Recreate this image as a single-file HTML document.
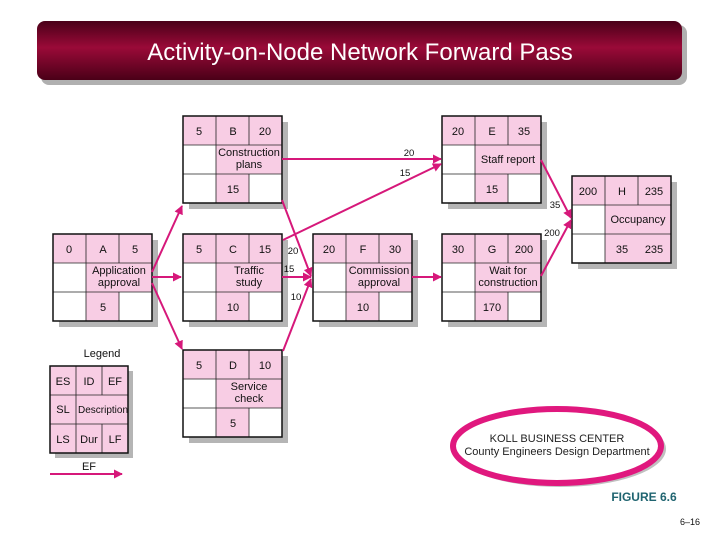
<!DOCTYPE html>
<html><head><meta charset="utf-8"><style>
html,body{margin:0;padding:0;background:#fff;}
svg{display:block;}
text{font-family:"Liberation Sans",sans-serif;}
</style></head><body>
<svg width="720" height="540" viewBox="0 0 720 540" xmlns="http://www.w3.org/2000/svg">
<defs>
<linearGradient id="tg" x1="0" y1="0" x2="0" y2="1">
<stop offset="0" stop-color="#4a0018"/>
<stop offset="0.45" stop-color="#9a0a38"/>
<stop offset="1" stop-color="#4a0018"/>
</linearGradient>
<marker id="ah" viewBox="0 0 10 10" refX="9" refY="5" markerWidth="9" markerHeight="9" markerUnits="userSpaceOnUse" orient="auto">
<path d="M0,0 L10,5 L0,10 z" fill="#d6187a"/>
</marker>
</defs>
<rect x="41" y="25" width="646" height="60" rx="8" fill="#b0b0b0"/>
<rect x="37" y="21" width="645" height="59" rx="8" fill="url(#tg)"/>
<text x="360" y="60" font-size="24" fill="#fff" text-anchor="middle">Activity-on-Node Network Forward Pass</text>

<g font-size="11" text-anchor="middle" fill="#111">
<g transform="translate(183,116)">
<rect x="6" y="6" width="99" height="87" fill="#b5b5b5"/>
<rect x="0" y="0" width="99" height="87" fill="#fff"/>
<rect x="0" y="0" width="99" height="29" fill="#f8cde4"/><rect x="33" y="29" width="66" height="29" fill="#f8cde4"/><rect x="33" y="58" width="33" height="29" fill="#f8cde4"/>
<g stroke="#222" stroke-width="0.8" fill="none"><line x1="0" y1="29" x2="99" y2="29"/><line x1="0" y1="58" x2="99" y2="58"/><line x1="33" y1="0" x2="33" y2="87"/><line x1="66" y1="0" x2="66" y2="29"/><line x1="66" y1="58" x2="66" y2="87"/></g>
<rect x="0" y="0" width="99" height="87" fill="none" stroke="#111" stroke-width="1.5"/>
<text x="16" y="19">5</text><text x="50" y="19">B</text><text x="82" y="19">20</text>
<text x="66" y="40">Construction</text><text x="66" y="52">plans</text><text x="50" y="77">15</text>
</g>
<g transform="translate(442,116)">
<rect x="6" y="6" width="99" height="87" fill="#b5b5b5"/>
<rect x="0" y="0" width="99" height="87" fill="#fff"/>
<rect x="0" y="0" width="99" height="29" fill="#f8cde4"/><rect x="33" y="29" width="66" height="29" fill="#f8cde4"/><rect x="33" y="58" width="33" height="29" fill="#f8cde4"/>
<g stroke="#222" stroke-width="0.8" fill="none"><line x1="0" y1="29" x2="99" y2="29"/><line x1="0" y1="58" x2="99" y2="58"/><line x1="33" y1="0" x2="33" y2="87"/><line x1="66" y1="0" x2="66" y2="29"/><line x1="66" y1="58" x2="66" y2="87"/></g>
<rect x="0" y="0" width="99" height="87" fill="none" stroke="#111" stroke-width="1.5"/>
<text x="16" y="19">20</text><text x="50" y="19">E</text><text x="82" y="19">35</text>
<text x="66" y="47">Staff report</text><text x="50" y="77">15</text>
</g>
<g transform="translate(53,234)">
<rect x="6" y="6" width="99" height="87" fill="#b5b5b5"/>
<rect x="0" y="0" width="99" height="87" fill="#fff"/>
<rect x="0" y="0" width="99" height="29" fill="#f8cde4"/><rect x="33" y="29" width="66" height="29" fill="#f8cde4"/><rect x="33" y="58" width="33" height="29" fill="#f8cde4"/>
<g stroke="#222" stroke-width="0.8" fill="none"><line x1="0" y1="29" x2="99" y2="29"/><line x1="0" y1="58" x2="99" y2="58"/><line x1="33" y1="0" x2="33" y2="87"/><line x1="66" y1="0" x2="66" y2="29"/><line x1="66" y1="58" x2="66" y2="87"/></g>
<rect x="0" y="0" width="99" height="87" fill="none" stroke="#111" stroke-width="1.5"/>
<text x="16" y="19">0</text><text x="50" y="19">A</text><text x="82" y="19">5</text>
<text x="66" y="40">Application</text><text x="66" y="52">approval</text><text x="50" y="77">5</text>
</g>
<g transform="translate(183,234)">
<rect x="6" y="6" width="99" height="87" fill="#b5b5b5"/>
<rect x="0" y="0" width="99" height="87" fill="#fff"/>
<rect x="0" y="0" width="99" height="29" fill="#f8cde4"/><rect x="33" y="29" width="66" height="29" fill="#f8cde4"/><rect x="33" y="58" width="33" height="29" fill="#f8cde4"/>
<g stroke="#222" stroke-width="0.8" fill="none"><line x1="0" y1="29" x2="99" y2="29"/><line x1="0" y1="58" x2="99" y2="58"/><line x1="33" y1="0" x2="33" y2="87"/><line x1="66" y1="0" x2="66" y2="29"/><line x1="66" y1="58" x2="66" y2="87"/></g>
<rect x="0" y="0" width="99" height="87" fill="none" stroke="#111" stroke-width="1.5"/>
<text x="16" y="19">5</text><text x="50" y="19">C</text><text x="82" y="19">15</text>
<text x="66" y="40">Traffic</text><text x="66" y="52">study</text><text x="50" y="77">10</text>
</g>
<g transform="translate(313,234)">
<rect x="6" y="6" width="99" height="87" fill="#b5b5b5"/>
<rect x="0" y="0" width="99" height="87" fill="#fff"/>
<rect x="0" y="0" width="99" height="29" fill="#f8cde4"/><rect x="33" y="29" width="66" height="29" fill="#f8cde4"/><rect x="33" y="58" width="33" height="29" fill="#f8cde4"/>
<g stroke="#222" stroke-width="0.8" fill="none"><line x1="0" y1="29" x2="99" y2="29"/><line x1="0" y1="58" x2="99" y2="58"/><line x1="33" y1="0" x2="33" y2="87"/><line x1="66" y1="0" x2="66" y2="29"/><line x1="66" y1="58" x2="66" y2="87"/></g>
<rect x="0" y="0" width="99" height="87" fill="none" stroke="#111" stroke-width="1.5"/>
<text x="16" y="19">20</text><text x="50" y="19">F</text><text x="82" y="19">30</text>
<text x="66" y="40">Commission</text><text x="66" y="52">approval</text><text x="50" y="77">10</text>
</g>
<g transform="translate(442,234)">
<rect x="6" y="6" width="99" height="87" fill="#b5b5b5"/>
<rect x="0" y="0" width="99" height="87" fill="#fff"/>
<rect x="0" y="0" width="99" height="29" fill="#f8cde4"/><rect x="33" y="29" width="66" height="29" fill="#f8cde4"/><rect x="33" y="58" width="33" height="29" fill="#f8cde4"/>
<g stroke="#222" stroke-width="0.8" fill="none"><line x1="0" y1="29" x2="99" y2="29"/><line x1="0" y1="58" x2="99" y2="58"/><line x1="33" y1="0" x2="33" y2="87"/><line x1="66" y1="0" x2="66" y2="29"/><line x1="66" y1="58" x2="66" y2="87"/></g>
<rect x="0" y="0" width="99" height="87" fill="none" stroke="#111" stroke-width="1.5"/>
<text x="16" y="19">30</text><text x="50" y="19">G</text><text x="82" y="19">200</text>
<text x="66" y="40">Wait for</text><text x="66" y="52">construction</text><text x="50" y="77">170</text>
</g>
<g transform="translate(572,176)">
<rect x="6" y="6" width="99" height="87" fill="#b5b5b5"/>
<rect x="0" y="0" width="99" height="87" fill="#fff"/>
<rect x="0" y="0" width="99" height="29" fill="#f8cde4"/><rect x="33" y="29" width="66" height="29" fill="#f8cde4"/><rect x="33" y="58" width="66" height="29" fill="#f8cde4"/>
<g stroke="#222" stroke-width="0.8" fill="none"><line x1="0" y1="29" x2="99" y2="29"/><line x1="0" y1="58" x2="99" y2="58"/><line x1="33" y1="0" x2="33" y2="87"/><line x1="66" y1="0" x2="66" y2="29"/></g>
<rect x="0" y="0" width="99" height="87" fill="none" stroke="#111" stroke-width="1.5"/>
<text x="16" y="19">200</text><text x="50" y="19">H</text><text x="82" y="19">235</text>
<text x="66" y="47">Occupancy</text><text x="50" y="77">35</text><text x="82" y="77">235</text>
</g>
<g transform="translate(183,350)">
<rect x="6" y="6" width="99" height="87" fill="#b5b5b5"/>
<rect x="0" y="0" width="99" height="87" fill="#fff"/>
<rect x="0" y="0" width="99" height="29" fill="#f8cde4"/><rect x="33" y="29" width="66" height="29" fill="#f8cde4"/><rect x="33" y="58" width="33" height="29" fill="#f8cde4"/>
<g stroke="#222" stroke-width="0.8" fill="none"><line x1="0" y1="29" x2="99" y2="29"/><line x1="0" y1="58" x2="99" y2="58"/><line x1="33" y1="0" x2="33" y2="87"/><line x1="66" y1="0" x2="66" y2="29"/><line x1="66" y1="58" x2="66" y2="87"/></g>
<rect x="0" y="0" width="99" height="87" fill="none" stroke="#111" stroke-width="1.5"/>
<text x="16" y="19">5</text><text x="50" y="19">D</text><text x="82" y="19">10</text>
<text x="66" y="40">Service</text><text x="66" y="52">check</text><text x="50" y="77">5</text>
</g>
<text x="102" y="357" font-size="11">Legend</text>
<g transform="translate(50,366)">
<rect x="5" y="5" width="78" height="87" fill="#b5b5b5"/>
<rect x="0" y="0" width="78" height="87" fill="#f8cde4"/>
<g stroke="#222" stroke-width="0.8" fill="none"><line x1="0" y1="29" x2="78" y2="29"/><line x1="0" y1="58" x2="78" y2="58"/><line x1="26" y1="0" x2="26" y2="87"/><line x1="52" y1="0" x2="52" y2="29"/><line x1="52" y1="58" x2="52" y2="87"/></g>
<rect x="0" y="0" width="78" height="87" fill="none" stroke="#111" stroke-width="1.5"/>
<text x="13" y="19">ES</text><text x="39" y="19">ID</text><text x="65" y="19">EF</text>
<text x="13" y="47">SL</text><text x="53" y="47" font-size="10">Description</text>
<text x="13" y="77">LS</text><text x="39" y="77">Dur</text><text x="65" y="77">LF</text>
</g>
<text x="89" y="470" font-size="11">EF</text>
</g>

<g stroke="#d6187a" stroke-width="2" fill="none" marker-end="url(#ah)">
<line x1="50" y1="474" x2="122" y2="474"/>
<line x1="152" y1="272" x2="182" y2="206"/>
<line x1="152" y1="277" x2="181" y2="277"/>
<line x1="152" y1="283" x2="182" y2="349"/>
<line x1="282" y1="159" x2="441" y2="159"/>
<line x1="283" y1="240" x2="441" y2="164"/>
<line x1="282" y1="200" x2="311" y2="276"/>
<line x1="282" y1="277" x2="311" y2="277"/>
<line x1="283" y1="351" x2="311" y2="279"/>
<line x1="412" y1="277" x2="441" y2="277"/>
<line x1="541" y1="160" x2="571" y2="218"/>
<line x1="541" y1="276" x2="571" y2="220"/>
</g>
<g font-size="9.5" fill="#111" text-anchor="middle">
<text x="409" y="156">20</text><text x="405" y="176">15</text>
<text x="293" y="254">20</text><text x="289" y="272">15</text><text x="296" y="300">10</text>
<text x="555" y="208">35</text><text x="552" y="236">200</text>
</g>

<ellipse cx="560" cy="449" rx="106" ry="38" fill="#c0c0c0"/>
<ellipse cx="557" cy="446" rx="104" ry="37" fill="#fff" stroke="#e0187e" stroke-width="6"/>
<text x="557" y="442" font-size="11" text-anchor="middle" fill="#222">KOLL BUSINESS CENTER</text>
<text x="557" y="455" font-size="11" text-anchor="middle" fill="#222">County Engineers Design Department</text>
<text x="644" y="501" font-size="12" font-weight="bold" text-anchor="middle" fill="#1f6470">FIGURE 6.6</text>
<text x="690" y="525" font-size="9" text-anchor="middle" fill="#111">6–16</text>
</svg>
</body></html>
